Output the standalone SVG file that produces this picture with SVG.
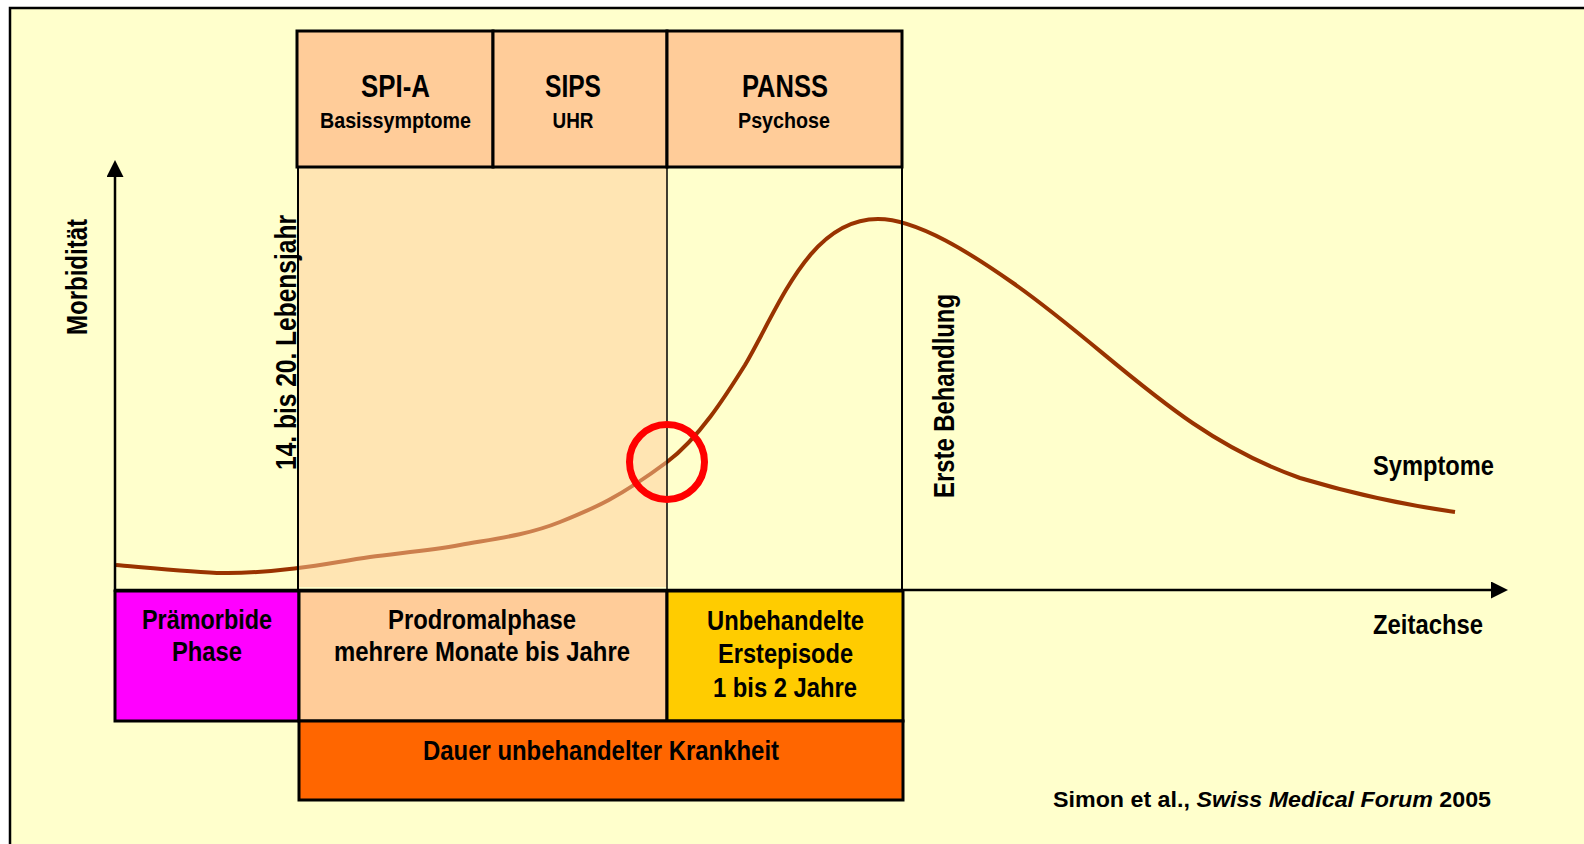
<svg xmlns="http://www.w3.org/2000/svg" width="1584" height="844" viewBox="0 0 1584 844">
<style>
.t{font-family:"Liberation Sans",Arial,sans-serif;font-weight:bold;fill:#000}
.big{font-size:31px}
.sub{font-size:21.5px}
.lab{font-size:27.5px}
.rot{font-size:29px}
.box{stroke:#000;stroke-width:3}
.thin{stroke:#000;stroke-width:2;fill:none}
</style>
<defs>
<marker id="arr" markerWidth="17" markerHeight="17" refX="0" refY="8.5" orient="auto" markerUnits="userSpaceOnUse">
<path d="M0,0 L17,8.5 L0,17 Z" fill="#000"/>
</marker>
</defs>
<rect x="0" y="0" width="1584" height="844" fill="#FFFFFF"/>
<rect x="10" y="8" width="1600" height="900" fill="#FFFFCC" stroke="#000" stroke-width="2.5"/>

<g id="curve">
<path d="M116,565 C133.8,566.3 192.7,572.5 223,573 C253.3,573.5 273.5,570.7 298,568 C322.5,565.3 343,560.8 370,557 C397,553.2 428.3,550.8 460,545 C491.7,539.2 525.5,535.8 560,522 C594.5,508.2 620,497 667,462 C699,438 725,397 745,365 C780,305 810,219 878,219 C918,219 973,255 1013,283 C1113,353 1180,436 1300,478 C1360,496 1405,505 1455,512" fill="none" stroke="#993300" stroke-width="4"/>
</g>

<g id="prodromal-shade">
<rect x="298" y="167" width="369" height="420" fill="#FFCC99" fill-opacity="0.5"/>
</g>

<g id="connectors">
<line class="thin" x1="298" y1="167" x2="298" y2="591"/>
<line x1="667" y1="167" x2="667" y2="591" stroke="#000" stroke-width="1.5"/>
<line class="thin" x1="902" y1="153" x2="902" y2="591"/>
<line x1="115" y1="592" x2="115" y2="177" stroke="#000" stroke-width="2.5" marker-end="url(#arr)"/>
<line x1="115" y1="590" x2="1491" y2="590" stroke="#000" stroke-width="2.5" marker-end="url(#arr)"/>
</g>

<g id="marker-circle">
<circle cx="667" cy="462" r="37.5" fill="none" stroke="#FF0000" stroke-width="7"/>
</g>

<g id="top-spia">
<rect class="box" x="297" y="31" width="196" height="136" fill="#FFCC99"/>
<text class="t big" x="395.5" y="97" text-anchor="middle" textLength="69" lengthAdjust="spacingAndGlyphs">SPI-A</text>
<text class="t sub" x="395.5" y="128" text-anchor="middle" textLength="151" lengthAdjust="spacingAndGlyphs">Basissymptome</text>
</g>
<g id="top-sips">
<rect class="box" x="493" y="31" width="174" height="136" fill="#FFCC99"/>
<text class="t big" x="573" y="97" text-anchor="middle" textLength="56" lengthAdjust="spacingAndGlyphs">SIPS</text>
<text class="t sub" x="573" y="128" text-anchor="middle" textLength="41" lengthAdjust="spacingAndGlyphs">UHR</text>
</g>
<g id="top-panss">
<rect class="box" x="667" y="31" width="235" height="136" fill="#FFCC99"/>
<text class="t big" x="785" y="97" text-anchor="middle" textLength="86" lengthAdjust="spacingAndGlyphs">PANSS</text>
<text class="t sub" x="784" y="128" text-anchor="middle" textLength="92" lengthAdjust="spacingAndGlyphs">Psychose</text>
</g>

<g id="phase-praemorbid">
<rect class="box" x="115" y="591" width="184" height="130" fill="#FF00FF"/>
<text class="t lab" x="207" y="629" text-anchor="middle" textLength="130" lengthAdjust="spacingAndGlyphs">Prämorbide</text>
<text class="t lab" x="207" y="661" text-anchor="middle" textLength="70" lengthAdjust="spacingAndGlyphs">Phase</text>
</g>
<g id="phase-prodromal">
<rect class="box" x="299" y="591" width="368" height="130" fill="#FFCC99"/>
<text class="t lab" x="482" y="629" text-anchor="middle" textLength="188" lengthAdjust="spacingAndGlyphs">Prodromalphase</text>
<text class="t lab" x="482" y="661" text-anchor="middle" textLength="296" lengthAdjust="spacingAndGlyphs">mehrere Monate bis Jahre</text>
</g>
<g id="phase-erstepisode">
<rect class="box" x="667" y="591" width="236" height="130" fill="#FFCC00"/>
<text class="t lab" x="785.5" y="630" text-anchor="middle" textLength="157" lengthAdjust="spacingAndGlyphs">Unbehandelte</text>
<text class="t lab" x="785.5" y="663" text-anchor="middle" textLength="135" lengthAdjust="spacingAndGlyphs">Erstepisode</text>
<text class="t lab" x="785" y="697" text-anchor="middle" textLength="144" lengthAdjust="spacingAndGlyphs">1 bis 2 Jahre</text>
</g>
<g id="dauer">
<rect class="box" x="299" y="721" width="604" height="79" fill="#FF6600"/>
<text class="t lab" x="601" y="760" text-anchor="middle" textLength="356" lengthAdjust="spacingAndGlyphs">Dauer unbehandelter Krankheit</text>
</g>

<g id="labels">
<text class="t rot" transform="translate(87,277) rotate(-90)" text-anchor="middle" textLength="116" lengthAdjust="spacingAndGlyphs">Morbidität</text>
<text class="t rot" transform="translate(296,342.5) rotate(-90)" text-anchor="middle" textLength="255" lengthAdjust="spacingAndGlyphs">14. bis 20.  Lebensjahr</text>
<text class="t rot" transform="translate(954,396) rotate(-90)" text-anchor="middle" textLength="204" lengthAdjust="spacingAndGlyphs">Erste Behandlung</text>
<text class="t lab" x="1373" y="475" textLength="121" lengthAdjust="spacingAndGlyphs">Symptome</text>
<text class="t lab" x="1373" y="634" textLength="110" lengthAdjust="spacingAndGlyphs">Zeitachse</text>
<text class="t" x="1053" y="807" font-size="22" textLength="438" lengthAdjust="spacingAndGlyphs">Simon et al., <tspan font-style="italic">Swiss Medical Forum</tspan> 2005</text>
</g>
</svg>
